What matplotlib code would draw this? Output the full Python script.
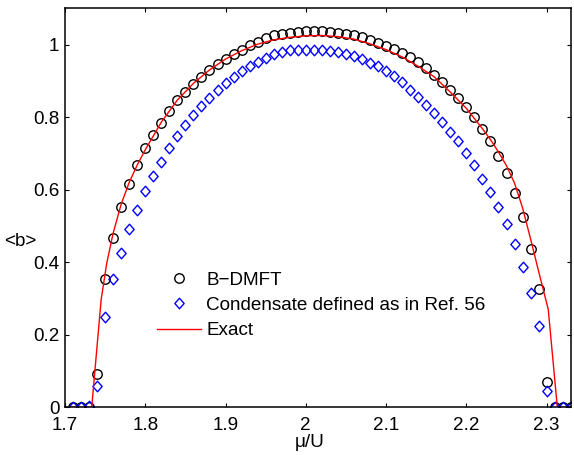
import numpy as np
import matplotlib
matplotlib.use('Agg')
import matplotlib.pyplot as plt
from matplotlib.path import Path

plt.rcParams['font.family'] = ['Liberation Sans', 'DejaVu Sans']

# ---- data ----
mu = [1.71, 1.72, 1.73, 1.74, 1.75, 1.76, 1.77, 1.78, 1.79, 1.80,
      1.81, 1.82, 1.83, 1.84, 1.85, 1.86, 1.87, 1.88, 1.89, 1.90,
      1.91, 1.92, 1.93, 1.94, 1.95, 1.96, 1.97, 1.98, 1.99, 2.00,
      2.01, 2.02, 2.03, 2.04, 2.05, 2.06, 2.07, 2.08, 2.09, 2.10,
      2.11, 2.12, 2.13, 2.14, 2.15, 2.16, 2.17, 2.18, 2.19, 2.20,
      2.21, 2.22, 2.23, 2.24, 2.25, 2.26, 2.27, 2.28, 2.29, 2.30,
      2.31, 2.32, 2.33]

b_dmft = [0.0, 0.0, 0.0, 0.092, 0.353, 0.468, 0.551, 0.615, 0.667, 0.715,
          0.751, 0.785, 0.818, 0.847, 0.869, 0.891, 0.911, 0.929, 0.946, 0.959,
          0.974, 0.986, 0.998, 1.008, 1.017, 1.025, 1.029, 1.033, 1.035, 1.036,
          1.036, 1.036, 1.035, 1.033, 1.030, 1.025, 1.020, 1.012, 1.004, 0.995,
          0.987, 0.976, 0.965, 0.951, 0.936, 0.916, 0.898, 0.876, 0.853, 0.828,
          0.800, 0.767, 0.733, 0.694, 0.646, 0.592, 0.525, 0.437, 0.325, 0.070,
          0.0, 0.0, 0.0]

b_cond = [0.0, 0.0, 0.005, 0.059, 0.250, 0.353, 0.426, 0.491, 0.545, 0.595,
          0.638, 0.677, 0.716, 0.747, 0.778, 0.806, 0.830, 0.852, 0.874, 0.893,
          0.910, 0.926, 0.940, 0.953, 0.964, 0.973, 0.980, 0.984, 0.984, 0.985,
          0.985, 0.984, 0.983, 0.980, 0.974, 0.968, 0.960, 0.950, 0.940, 0.927,
          0.914, 0.896, 0.876, 0.855, 0.834, 0.810, 0.786, 0.758, 0.733, 0.701,
          0.667, 0.630, 0.593, 0.551, 0.504, 0.450, 0.388, 0.315, 0.225, 0.046,
          0.0, 0.0, 0.0]

mu_exact = [1.700, 1.7333, 1.745, 1.752, 1.760, 1.770, 1.780, 1.790, 1.800,
            1.820, 1.840, 1.860, 1.880, 1.900, 1.920, 1.940, 1.960, 1.980,
            2.000, 2.020, 2.040, 2.060, 2.080, 2.100, 2.120, 2.140, 2.160,
            2.180, 2.200, 2.220, 2.230, 2.240, 2.250, 2.260, 2.270, 2.280,
            2.290, 2.302, 2.3133, 2.330]
b_exact = [0.000, 0.000, 0.296, 0.397, 0.480, 0.560, 0.620, 0.668, 0.710,
           0.786, 0.847, 0.893, 0.930, 0.960, 0.983, 1.001, 1.013, 1.020,
           1.024, 1.025, 1.022, 1.015, 1.002, 0.986, 0.966, 0.940, 0.911,
           0.869, 0.824, 0.768, 0.738, 0.704, 0.666, 0.618, 0.550, 0.464,
           0.375, 0.270, 0.000, 0.000]

# matlab-like diamond, a bit taller than wide
diamond = Path([(0, 1), (0.88, 0), (0, -1), (-0.88, 0), (0, 1)],
               [Path.MOVETO, Path.LINETO, Path.LINETO, Path.LINETO, Path.CLOSEPOLY])

fs = 13.6

fig = plt.figure(figsize=(5.74, 4.55), dpi=100)
ax = fig.add_axes([0.1132, 0.1048, 0.8811, 0.877])

ax.plot(mu, b_dmft, linestyle='none', marker='o', markersize=6.8,
        markerfacecolor='none', markeredgecolor='black', markeredgewidth=1.0,
        label='B\u2212DMFT')
ax.plot(mu, b_cond, linestyle='none', marker=diamond, markersize=7.6,
        markerfacecolor='none', markeredgecolor='blue', markeredgewidth=1.0,
        label='Condensate defined as in Ref. 56')
ax.plot(mu_exact, b_exact, color='red', linewidth=1.0, label='Exact')

ax.set_xlim(1.7, 2.33)
ax.set_ylim(0, 1.1)
ax.set_xticks([1.7, 1.8, 1.9, 2.0, 2.1, 2.2, 2.3])
ax.set_xticklabels(['1.7', '1.8', '1.9', '2', '2.1', '2.2', '2.3'])
ax.set_yticks([0, 0.2, 0.4, 0.6, 0.8, 1.0])
ax.set_yticklabels(['0', '0.2', '0.4', '0.6', '0.8', '1'])
ax.tick_params(direction='in', length=3.2, width=0.8, labelsize=fs,
               top=True, right=True)
ax.tick_params(axis='x', pad=7)
ax.tick_params(axis='y', pad=4)
for s in ax.spines.values():
    s.set_linewidth(1.1)

ax.set_xlabel('\u03bc/U', fontsize=fs, labelpad=0)
ax.xaxis.set_label_coords(0.4845, -0.068)
ax.set_ylabel('<b>', fontsize=fs, rotation=0, va='center', ha='center')
ax.yaxis.set_label_coords(-0.088, 0.415)

ax.legend(loc='upper left', bbox_to_anchor=(0.182, 0.34), frameon=False,
          fontsize=fs, handlelength=2.35, handletextpad=0.25,
          labelspacing=0.42, borderpad=0, borderaxespad=0, numpoints=1)

fig.savefig('out.png', dpi=100)
